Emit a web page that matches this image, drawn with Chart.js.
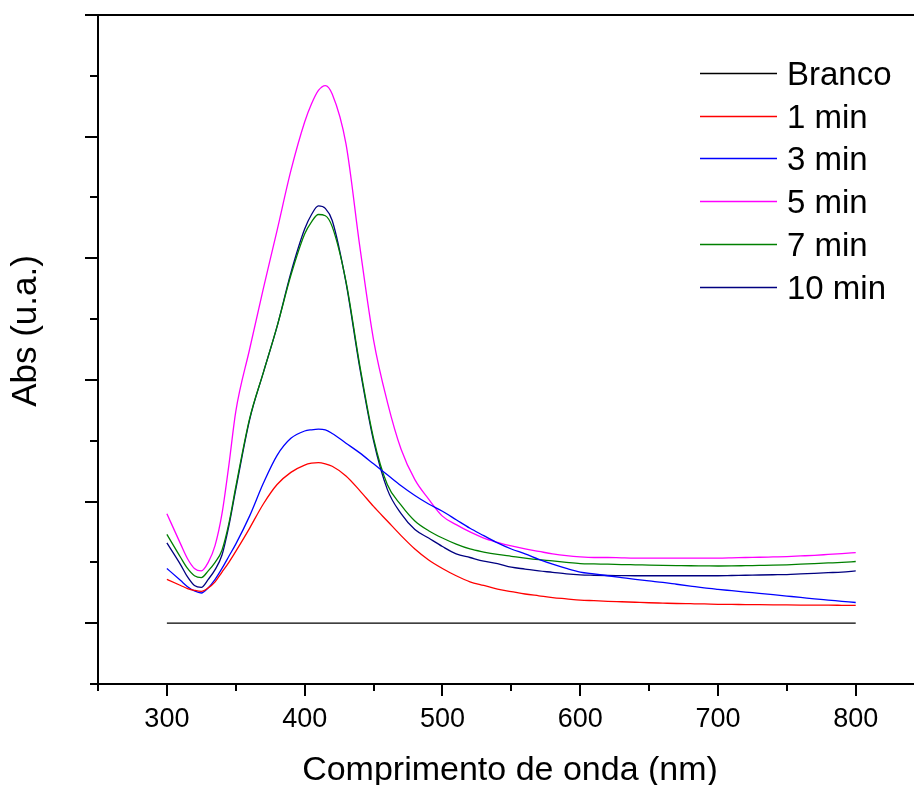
<!DOCTYPE html>
<html>
<head>
<meta charset="utf-8">
<script src="https://cdn.jsdelivr.net/npm/chart.js@4.4.1/dist/chart.umd.min.js"></script>
<style>
  html, body { margin: 0; padding: 0; background: #fff; }
  #wrap { width: 914px; height: 785px; position: relative; }
</style>
</head>
<body>
<div id="wrap"><canvas id="absChart"></canvas></div>
<script>
// wavelengths (nm)
var wavelengths = [300,310,315,320,325,330,335,340,345,350,360,370,380,390,400,405,410,415,420,
  430,440,450,460,470,480,490,500,510,520,530,540,550,560,570,580,590,600,
  610,620,630,640,650,660,670,680,690,700,710,720,730,740,750,760,770,780,790,800];

var branco = [0,0,0,0,0,0,0,0,0,0,0,0,0,0,0,0,0,0,0,
  0,0,0,0,0,0,0,0,0,0,0,0,0,0,0,0,0,0,
  0,0,0,0,0,0,0,0,0,0,0,0,0,0,0,0,0,0,0,0];
var min1 = [0.36,0.31,0.285,0.27,0.262,0.29,0.34,0.42,0.50,0.59,0.78,0.98,1.14,1.24,1.30,1.315,1.32,1.31,1.29,
  1.21,1.09,0.96,0.84,0.72,0.61,0.52,0.45,0.39,0.34,0.31,0.28,0.26,0.24,0.225,0.21,0.20,0.19,
  0.185,0.18,0.176,0.172,0.168,0.165,0.162,0.16,0.158,0.155,0.154,0.153,0.152,0.151,0.15,0.149,0.148,0.148,0.147,0.146];
var min3 = [0.45,0.35,0.30,0.265,0.248,0.29,0.36,0.45,0.55,0.65,0.88,1.15,1.38,1.52,1.58,1.59,1.595,1.59,1.56,
  1.48,1.40,1.31,1.22,1.13,1.05,0.98,0.92,0.85,0.78,0.72,0.66,0.61,0.57,0.525,0.485,0.45,0.42,
  0.405,0.39,0.375,0.36,0.347,0.335,0.32,0.305,0.29,0.278,0.267,0.256,0.245,0.234,0.223,0.212,0.20,0.19,0.18,0.17];
var min5 = [0.90,0.65,0.53,0.45,0.43,0.50,0.64,0.90,1.30,1.74,2.25,2.75,3.23,3.72,4.12,4.27,4.38,4.42,4.35,
  3.94,3.10,2.33,1.82,1.43,1.18,1.02,0.88,0.81,0.75,0.70,0.665,0.635,0.61,0.59,0.57,0.555,0.545,
  0.54,0.54,0.537,0.535,0.535,0.535,0.535,0.535,0.535,0.535,0.537,0.54,0.542,0.545,0.548,0.553,0.558,0.565,0.572,0.58];
var min7 = [0.73,0.54,0.45,0.39,0.375,0.43,0.50,0.60,0.82,1.12,1.68,2.06,2.44,2.86,3.20,3.30,3.36,3.35,3.26,
  2.81,2.12,1.52,1.14,0.97,0.84,0.76,0.70,0.65,0.61,0.585,0.565,0.55,0.535,0.522,0.512,0.50,0.49,
  0.487,0.485,0.482,0.48,0.478,0.476,0.474,0.472,0.471,0.47,0.471,0.473,0.475,0.477,0.48,0.485,0.49,0.495,0.50,0.507];
var min10 = [0.66,0.48,0.38,0.31,0.295,0.36,0.44,0.56,0.80,1.10,1.67,2.06,2.44,2.88,3.24,3.36,3.43,3.41,3.31,
  2.80,2.10,1.50,1.10,0.90,0.77,0.70,0.63,0.57,0.54,0.51,0.49,0.46,0.445,0.43,0.418,0.405,0.397,
  0.394,0.392,0.391,0.39,0.39,0.39,0.39,0.39,0.39,0.39,0.392,0.394,0.396,0.398,0.40,0.405,0.41,0.415,0.42,0.43];

var seriesNames = ["Branco", "1 min", "3 min", "5 min", "7 min", "10 min"];
var seriesValues = [branco, min1, min3, min5, min7, min10];
var seriesColors = ["#000000", "#ff0000", "#0000ff", "#ff00ff", "#008000", "#000080"];

var xMajorTicks = [300, 400, 500, 600, 700, 800];
var xTickLabels = ["300", "400", "500", "600", "700", "800"];
var xMinorTicks = [250, 350, 450, 550, 650, 750];
var yMajorTicks = [0, 1, 2, 3, 4, 5];
var yMinorTicks = [-0.5, 0.5, 1.5, 2.5, 3.5, 4.5];

var FONT = '"Liberation Sans", Arial, sans-serif';

var datasets = [];
for (var s = 0; s < seriesValues.length; s++) {
  var pts = [];
  for (var i = 0; i < wavelengths.length; i++) {
    pts.push({x: wavelengths[i], y: seriesValues[s][i]});
  }
  datasets.push({
    label: seriesNames[s],
    data: pts,
    borderColor: seriesColors[s],
    borderWidth: 1.3,
    pointRadius: 0,
    fill: false,
    cubicInterpolationMode: 'monotone'
  });
}

// axes, ticks, titles and legend drawn with the chart's own scales
var frame = {
  id: 'frame',
  afterDraw: function(chart) {
    var c = chart.ctx, a = chart.chartArea;
    var x = chart.scales.x, y = chart.scales.y;
    c.save();
    c.strokeStyle = '#000';
    c.lineWidth = 2;
    c.beginPath();
    c.moveTo(a.left, a.top); c.lineTo(a.left, a.bottom + 1);
    c.moveTo(a.left - 1, a.bottom); c.lineTo(a.right, a.bottom);
    c.moveTo(a.left, a.top); c.lineTo(a.right, a.top);
    // y ticks
    yMajorTicks.forEach(function(v) {
      var py = Math.round(y.getPixelForValue(v));
      c.moveTo(a.left - 13, py); c.lineTo(a.left, py);
    });
    yMinorTicks.forEach(function(v) {
      var py = Math.round(y.getPixelForValue(v));
      c.moveTo(a.left - 8, py); c.lineTo(a.left, py);
    });
    // x ticks
    xMajorTicks.forEach(function(v) {
      var px = Math.round(x.getPixelForValue(v));
      c.moveTo(px, a.bottom); c.lineTo(px, a.bottom + 12);
    });
    xMinorTicks.forEach(function(v) {
      var px = Math.round(x.getPixelForValue(v));
      c.moveTo(px, a.bottom); c.lineTo(px, a.bottom + 7);
    });
    c.stroke();

    c.fillStyle = '#000';
    c.font = '27px ' + FONT;
    c.textAlign = 'center';
    c.textBaseline = 'alphabetic';
    xMajorTicks.forEach(function(v, k) {
      c.fillText(xTickLabels[k], x.getPixelForValue(v), 727);
    });

    c.font = '34px ' + FONT;
    c.fillText("Comprimento de onda (nm)", 510, 780);

    c.save();
    c.translate(36, 331);
    c.rotate(-Math.PI / 2);
    c.font = '35px ' + FONT;
    c.fillText("Abs (u.a.)", 0, 0);
    c.restore();

    // legend
    c.font = '33px ' + FONT;
    c.textAlign = 'left';
    for (var k = 0; k < seriesNames.length; k++) {
      var ly = 73 + k * 42.7;
      c.strokeStyle = seriesColors[k];
      c.lineWidth = 1.3;
      c.beginPath();
      c.moveTo(700, Math.round(ly) + 0.5); c.lineTo(777, Math.round(ly) + 0.5);
      c.stroke();
      c.fillText(seriesNames[k], 787, ly + 12);
    }
    c.restore();
  }
};

new Chart(document.getElementById("absChart"), {
  type: 'line',
  data: { datasets: datasets },
  options: {
    responsive: true,
    maintainAspectRatio: false,
    animation: false,
    devicePixelRatio: 1,
    layout: { padding: { left: 98, top: 15, right: 0, bottom: 101 } },
    plugins: { legend: { display: false }, tooltip: { enabled: false } },
    scales: {
      x: { type: 'linear', min: 250, max: 842.3, display: false },
      y: { type: 'linear', min: -0.5, max: 5, display: false }
    }
  },
  plugins: [frame]
});
</script>
</body>
</html>
